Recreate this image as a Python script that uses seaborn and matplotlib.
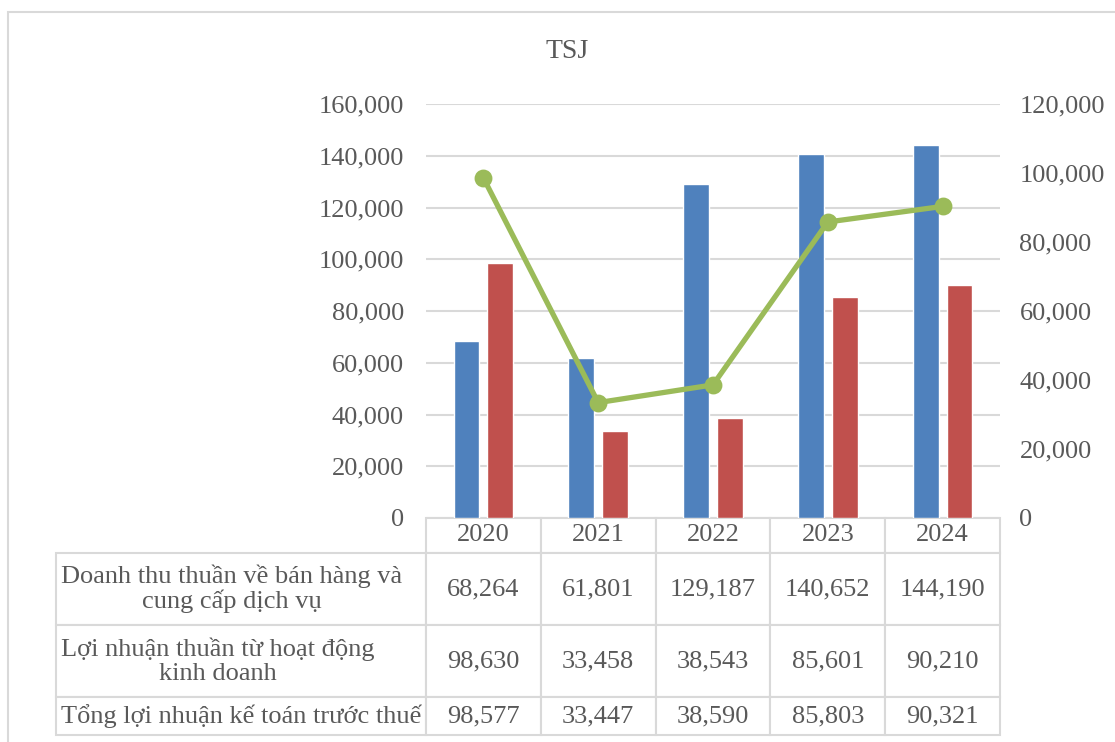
import pandas as pd
import seaborn as sns
import matplotlib.pyplot as plt
from matplotlib.patches import Rectangle

years = ['2020', '2021', '2022', '2023', '2024']
doanh_thu = [68264, 61801, 129187, 140652, 144190]
loi_nhuan_kd = [98630, 33458, 38543, 85601, 90210]
tong_loi_nhuan = [98577, 33447, 38590, 85803, 90321]
row_labels = ['Doanh thu thuần về bán hàng và\ncung cấp dịch vụ',
              'Lợi nhuận thuần từ hoạt động\nkinh doanh',
              'Tổng lợi nhuận kế toán trước thuế']
left_ticks = [0, 20000, 40000, 60000, 80000, 100000, 120000, 140000, 160000]
right_ticks = [0, 20000, 40000, 60000, 80000, 100000, 120000]

colors = ['#4F81BD', '#C0504D', '#9BBB59']
grid_col = '#D9D9D9'
text_col = '#595959'

sns.set_theme(style='white')
plt.rcParams['font.family'] = ['Liberation Serif', 'DejaVu Serif']

W, H = 1115, 742
AX_W, AX_H = 574, 414
fig = plt.figure(figsize=(W / 100, H / 100), dpi=100)
ax = fig.add_axes([426 / W, 1 - 518 / H, AX_W / W, AX_H / H])

df = pd.DataFrame({
    'Năm': years * 2,
    'Giá trị': doanh_thu + loi_nhuan_kd,
    'Chỉ tiêu': [row_labels[0]] * 5 + [row_labels[1]] * 5,
})
sns.barplot(data=df, x='Năm', y='Giá trị', hue='Chỉ tiêu', palette=colors[:2],
            width=0.59, gap=0.235, saturation=1, legend=False, ax=ax)
ax.set_ylim(0, 160000)
ax.set_yticks(left_ticks)
ax.set_yticklabels([f'{v:,}' for v in left_ticks])
ax.yaxis.grid(True, color=grid_col, linewidth=1.5)
ax.set_axisbelow(True)
ax.set_xlabel('')
ax.set_ylabel('')
ax.set_xticklabels([])
ax.tick_params(axis='x', length=0)
ax.tick_params(axis='y', length=0, pad=16, labelsize=19, labelcolor=text_col)
for s in ax.spines.values():
    s.set_visible(False)

ax2 = ax.twinx()
sns.pointplot(x=years, y=tong_loi_nhuan, color=colors[2], errorbar=None,
              markers='o', markersize=10, linewidth=3.8, ax=ax2)
ax2.set_ylim(0, 120000)
ax2.set_yticks(right_ticks)
ax2.set_yticklabels([f'{v:,}' for v in right_ticks])
ax2.tick_params(axis='y', length=0, pad=14, labelsize=19, labelcolor=text_col)
ax2.grid(False)
ax2.set_ylabel('')
for s in ax2.spines.values():
    s.set_visible(False)

# data table under the chart; bbox covers the year columns, labels hang to the left
cell_text = [[f'{v:,}' for v in s] for s in (doanh_thu, loi_nhuan_kd, tong_loi_nhuan)]
tbl = ax.table(cellText=cell_text, rowLabels=row_labels, colLabels=years,
               cellLoc='center', rowLoc='left',
               bbox=[0, -217 / AX_H, 1, 217 / AX_H])
tbl.auto_set_font_size(False)
tbl.set_fontsize(19)
row_h = {0: 35, 1: 72, 2: 72, 3: 38}
for (r, c), cell in tbl.get_celld().items():
    cell.set_edgecolor(grid_col)
    cell.set_linewidth(1.5)
    cell.set_height(row_h[r] / AX_H)
    cell.set_width((383 if c == -1 else 114.8) / AX_W)
    cell.get_text().set_color(text_col)
    if c == -1:
        cell.PAD = 0.013
        cell.get_text().set_multialignment('center')
        cell.get_text().set_linespacing(1.1)

fig.text(567 / W, 1 - 52 / H, 'TSJ', ha='center', va='center', fontsize=20, color=text_col)
fig.add_artist(Rectangle((8 / W, -0.05), 1.2, 1.05 - 12 / H, transform=fig.transFigure,
                         fill=False, edgecolor=grid_col, linewidth=1.5))

fig.savefig('out.png', dpi=100)
